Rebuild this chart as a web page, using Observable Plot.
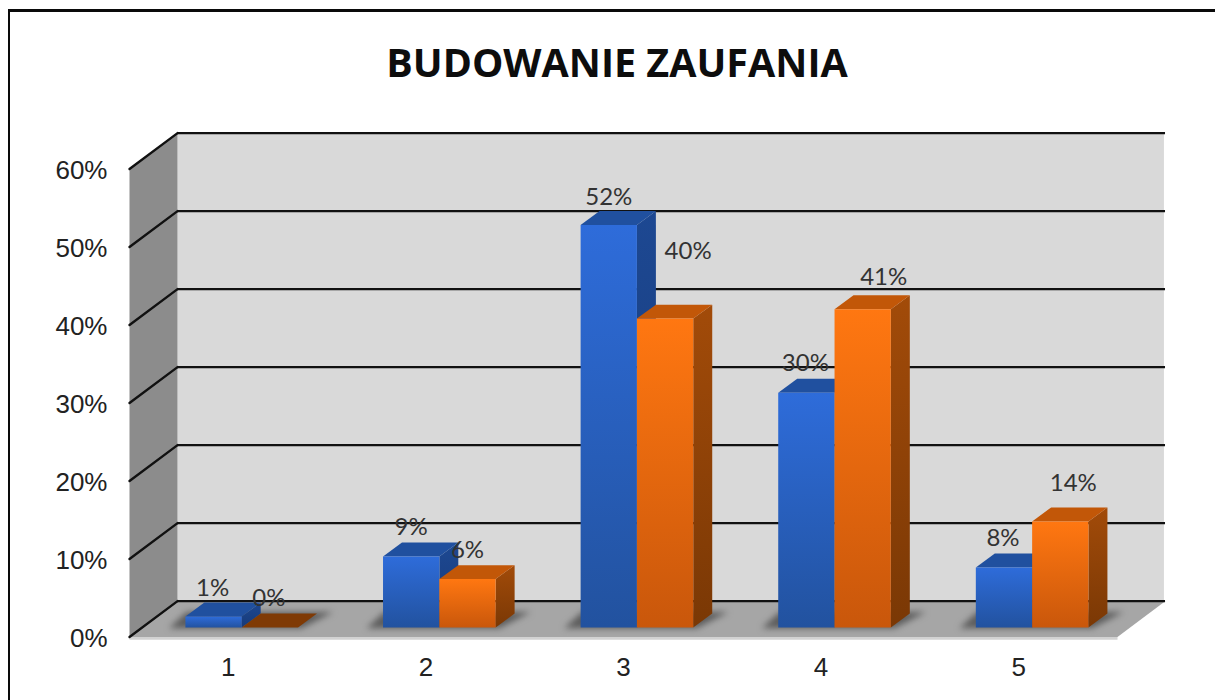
<!DOCTYPE html>
<html lang="pl">
<head>
<meta charset="utf-8">
<script src="https://cdn.jsdelivr.net/npm/d3@7"></script>
<script src="https://cdn.jsdelivr.net/npm/@observablehq/plot@0.6"></script>
<style>
  html, body { margin: 0; padding: 0; background: #fff; overflow: hidden; width: 1215px; height: 700px; }
  #chart { position: relative; width: 1215px; height: 700px; overflow: hidden; }
  #chart svg { display: block; position: absolute; left: 0; top: 0; background: transparent; }
  #frame { position: absolute; left: 7.5px; top: 9px; width: 1300px; height: 800px; border-left: 2.7px solid #0a0a0a; border-top: 3px solid #0a0a0a; box-sizing: content-box; }
  #title { position: absolute; left: 0; top: 35px; width: 1234px; text-align: center; font: 700 39.5px "Open Sans", sans-serif; color: #0d0d0d; }
</style>
</head>
<body>
<div id="chart">
  <div id="frame"></div>
  <div id="title">BUDOWANIE ZAUFANIA</div>
</div>
<script>
const chartTitle = "BUDOWANIE ZAUFANIA";
const categories = [1, 2, 3, 4, 5];
const seriesBlue = [1.4, 9.1, 51.6, 30.1, 7.7];
const seriesOrange = [0, 6.2, 39.6, 40.8, 13.6];
const labelsBlue = ["1%", "9%", "52%", "30%", "8%"];
const labelsOrange = ["0%", "6%", "40%", "41%", "14%"];
const yTicks = [0, 10, 20, 30, 40, 50, 60];

// 3D construction, in scale units
const wallDx = 0.243, wallDy = 4.6;     // depth of the chart box
const barDx = 0.096, barDy = 1.79;      // depth of one bar
const barInX = 0.068, barInY = 1.22;    // how far into the box bars stand
const barW = 0.285;

const colors = {
  wall: "#d9d9d9", side: "#8c8c8c", floor: "#a6a6a6",
  blueTop: "#20509f", orangeTop: "#c25708", orangeFlat: "#7f3a05"
};

const defs = () => {
  const d = d3.create("svg:defs");
  const grad = (id, a, b) => {
    const g = d.append("linearGradient").attr("id", id).attr("x1", 0).attr("x2", 0).attr("y1", 0).attr("y2", 1);
    g.append("stop").attr("offset", "0%").attr("stop-color", a);
    g.append("stop").attr("offset", "100%").attr("stop-color", b);
  };
  grad("blueFront", "#2e6cda", "#22529f");
  grad("blueSide", "#1d4892", "#173a78");
  grad("orangeFront", "#ff7711", "#c9570b");
  grad("orangeSide", "#a24b09", "#7a3805");
  return d.node();
};

const poly = (pts, fill, extra = {}) =>
  Plot.line(pts.map(([x, y]) => ({x, y})), {x: "x", y: "y", fill, stroke: "none", ...extra});

const xL = 0.5, xR = 5.5;

function barMarks(c, v, left, front, side, top) {
  const x1 = c + left + barInX, x2 = x1 + barW;
  const y0 = barInY, y1 = barInY + v;
  const marks = [];
  if (v > 0) {
    marks.push(poly([[x2, y0], [x2 + barDx, y0 + barDy], [x2 + barDx, y1 + barDy], [x2, y1]], side));
    marks.push(poly([[x1, y1], [x2, y1], [x2 + barDx, y1 + barDy], [x1 + barDx, y1 + barDy]], top));
    marks.push(poly([[x1, y0], [x2, y0], [x2, y1], [x1, y1]], front));
  } else {
    marks.push(poly([[x1, y1], [x2, y1], [x2 + barDx, y1 + barDy], [x1 + barDx, y1 + barDy]], colors.orangeFlat));
  }
  return marks;
}

const shadows = categories.map(c => poly([
  [c - 0.30, barInY - 0.1],
  [c + 0.37, barInY - 0.1],
  [c + 0.53, barInY + 2.0],
  [c - 0.21, barInY + 2.0]
], "#5c5c5c", {imageFilter: "blur(3px)"}));

const bars = categories.flatMap((c, i) => [
  ...barMarks(c, seriesBlue[i], -barW, "url(#blueFront)", "url(#blueSide)", colors.blueTop),
  ...barMarks(c, seriesOrange[i], 0, "url(#orangeFront)", "url(#orangeSide)", colors.orangeTop)
]);

// per-label nudges, in pixels, as in the source chart
const nudgeBlue = [[-1, -28], [0, -29], [0, -28], [-1, -29], [-1, -29]];
const nudgeOrange = [[-1, -29], [0, -29], [23, -67], [21, -32], [13, -38]];

const labelMark = (c, v, left, text, [dx, dy]) =>
  Plot.text([{c, v}], {
    x: d => d.c + left + barInX + barW / 2,
    y: d => d.v + barInY,
    text: () => text,
    dx, dy,
    fontSize: 24, fontFamily: "Lato, sans-serif", fill: "#333"
  });

const labels = categories.flatMap((c, i) => [
  labelMark(c, seriesBlue[i], -barW, labelsBlue[i], nudgeBlue[i]),
  labelMark(c, seriesOrange[i], 0, labelsOrange[i], nudgeOrange[i])
]);

const chart = Plot.plot({
  width: 1215, height: 700,
  marginLeft: 129, marginRight: 98, marginTop: 168.5, marginBottom: 63.5,
  style: {background: "transparent"},
  x: {domain: [xL, xR]},
  y: {domain: [0, 60]},
  marks: [
    defs,
    poly([[xL + wallDx, wallDy], [xR + wallDx - 0.008, wallDy], [xR + wallDx - 0.008, 60 + wallDy], [xL + wallDx, 60 + wallDy]], colors.wall),
    poly([[xL, 0], [xL + wallDx, wallDy], [xL + wallDx, 60 + wallDy], [xL, 60]], colors.side),
    poly([[xL, -0.35], [xR, -0.35], [xR, 0], [xL, 0]], "#d2d2d2"),
    poly([[xL, 0], [xR, 0], [xR + wallDx, wallDy], [xL + wallDx, wallDy]], colors.floor),
    Plot.ruleY(yTicks, {x1: xL + wallDx, x2: xR + wallDx, y: d => d + wallDy, stroke: "#111", strokeWidth: 2.4}),
    ...yTicks.map(t => Plot.line([{x: xL, y: t}, {x: xL + wallDx, y: t + wallDy}], {x: "x", y: "y", stroke: "#111", strokeWidth: 2.4})),
    ...shadows,
    ...bars,
    ...labels,
    Plot.axisY({ticks: yTicks, tickFormat: d => d + "%", tickSize: 0, tickPadding: 22, dy: 1.5, label: null, fontSize: 26, fontFamily: "'Liberation Sans', Arial, sans-serif", fill: "#222"}),
    Plot.axisX({ticks: categories, tickFormat: d => String(d), tickSize: 0, tickPadding: 21, label: null, fontSize: 26, fontFamily: "'Liberation Sans', Arial, sans-serif", fill: "#222"})
  ]
});
document.getElementById("title").textContent = chartTitle;
document.getElementById("chart").appendChild(chart);
</script>
</body>
</html>
